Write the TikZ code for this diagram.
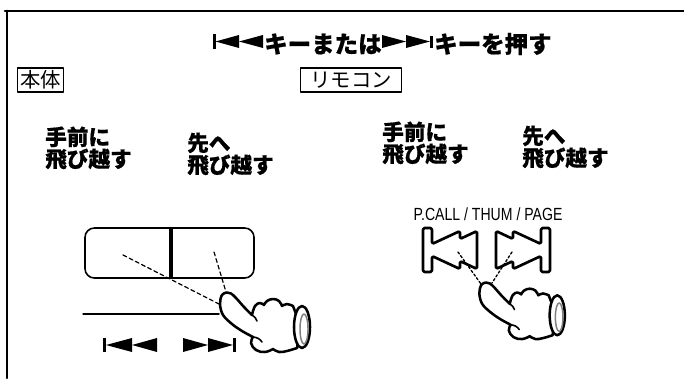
\documentclass[tikz,border=0pt]{standalone}
\usepackage{fontspec}
\usepackage{graphicx}
\newfontfamily\jp{Noto Sans CJK JP}
\newfontfamily\jpheavy{Noto Sans CJK JP}[BoldFeatures={FakeBold=0.7}]
\newfontfamily\narrowsans{Liberation Sans}
\begin{document}
\begin{tikzpicture}[x=0.75pt,y=-0.75pt,line join=round,line cap=round,
  frame/.style={line width=2.2pt},
  title/.style={font=\jpheavy\bfseries\fontsize{17.6pt}{20pt}\selectfont,inner sep=0pt},
  tag/.style={draw,line width=0.9pt,font=\jp\fontsize{15.3pt}{16pt}\selectfont,inner sep=0pt,minimum height=18pt},
  jump/.style={font=\jpheavy\bfseries\fontsize{16.2pt}{16.5pt}\selectfont,align=left,inner sep=0pt,anchor=west},
  keyout/.style={line width=2pt,rounded corners=1.2pt},
  bodydash/.style={line width=0.9pt,dash pattern=on 3pt off 2.2pt},
  remdash/.style={line width=1pt,dash pattern=on 1.8pt off 1.6pt},
  hand/.pic={
    % pointing finger, curled fingers and knuckles
    \filldraw[line width=1.9pt,fill=white]
      plot[smooth,tension=.6] coordinates {(25,22) (17,14) (9,5) (4,0.5) (0,-0.5) (-5,2) (-7,11) (-4,22) (5,31) (15,38) (26,44)}
      -- plot[smooth,tension=.7] coordinates {(26,44) (24,50) (29,57) (38,59) (46,56)}
      -- plot[smooth,tension=.7] coordinates {(46,56) (52,59) (60,58) (70,55)}
      -- (74,34)
      -- (66,13)
      -- plot[smooth,tension=.7] coordinates {(66,13) (60,11) (55,13)}
      -- plot[smooth,tension=.7] coordinates {(55,13) (52,8) (46,6) (40,8) (37,12)}
      -- plot[smooth,tension=.7] coordinates {(37,12) (33,10) (28,13) (25,22)}
      -- cycle;
    \draw[line width=1.2pt] (26,44) to[bend left=25] (35,49);
    \draw[line width=1.2pt] (25,22) to[bend left=20] (30,28);
    % sleeve opening
    \filldraw[line width=1.9pt,fill=white] (75,34) ellipse [x radius=8,y radius=21];
    \draw[line width=1.1pt,gray] (77,36) ellipse [x radius=4,y radius=15];
  }]
\useasboundingbox (0,0) rectangle (684,378);

% outer frame (top and left edges)
\draw[frame] (5,11) -- (684,11);
\draw[frame] (7,11) -- (7,378);

% heading with skip symbols
\fill (213,34) rectangle (215.5,49);
\fill (215.5,41.5) -- (239,35) -- (239,48) -- cycle;
\fill (239,41.5) -- (263,35) -- (263,48) -- cycle;
\node[title,anchor=west] (h1) at (264,44) {キーまたは};
\fill (382,35) -- (406,41.5) -- (382,48) -- cycle;
\fill (406,35) -- (430,41.5) -- (406,48) -- cycle;
\fill (430,36) rectangle (432.5,48);
\node[title,anchor=west] (h2) at (434,44) {キーを押す};

% section tags
\node[tag,minimum width=34.5pt] (main) at (40.5,80) {本体};
\node[tag,minimum width=76pt] (remote) at (351,80) {リモコン};

% jump labels
\node[jump] (bprev) at (45,148) {手前に\\飛び越す};
\node[jump] (bnext) at (187,154) {先へ\\飛び越す};
\node[jump] (rprev) at (382,143) {手前に\\飛び越す};
\node[jump] (rnext) at (522,147) {先へ\\飛び越す};

% main unit button strip
\draw[line width=1.2pt,rounded corners=7pt] (85,228) rectangle (254,278);
\draw[line width=2.4pt,line cap=butt] (171,228) -- (171,278);
\draw[line width=1pt] (83,314) -- (219,314);
\fill (103,338) rectangle (106,352);
\fill (106,345) -- (132,338) -- (132,352) -- cycle;
\fill (132,345) -- (157,338) -- (157,352) -- cycle;
\fill (183,338) -- (208,345) -- (183,352) -- cycle;
\fill (208,338) -- (233,345) -- (208,352) -- cycle;
\fill (233,338) rectangle (236,352);

\coordinate (bl) at (123,255);
\coordinate (br) at (214,252);
\coordinate (bt1) at (219,304);
\coordinate (bt2) at (226,292);
\draw[bodydash] (bl) -- (bt1);
\draw[bodydash] (br) -- (bt2);
\pic at (227,293) {hand};

% remote control keys
\node[font=\narrowsans\fontsize{13.2pt}{15pt}\selectfont,inner sep=0pt] (pcall) at (488,214) {\scalebox{0.8}[1]{P.CALL / THUM / PAGE}};
\draw[keyout] (423,228) -- (432,228) -- (432,244) -- (460,231) -- (460,239) -- (477,231)
  -- (477,269) -- (460,261) -- (460,269) -- (432,256) -- (432,272) -- (423,272) -- cycle;
\draw[keyout] (550,228) -- (541,228) -- (541,244) -- (513,231) -- (513,239) -- (496,231)
  -- (496,269) -- (513,261) -- (513,269) -- (541,256) -- (541,272) -- (550,272) -- cycle;

\coordinate (rl) at (458,252);
\coordinate (rr) at (512,252);
\coordinate (rt1) at (481,284);
\coordinate (rt2) at (492,283);
\draw[remdash] (rl) -- (rt1);
\draw[remdash] (rr) -- (rt2);
\pic[scale=0.95] at (486,283) {hand};
\end{tikzpicture}
\end{document}
